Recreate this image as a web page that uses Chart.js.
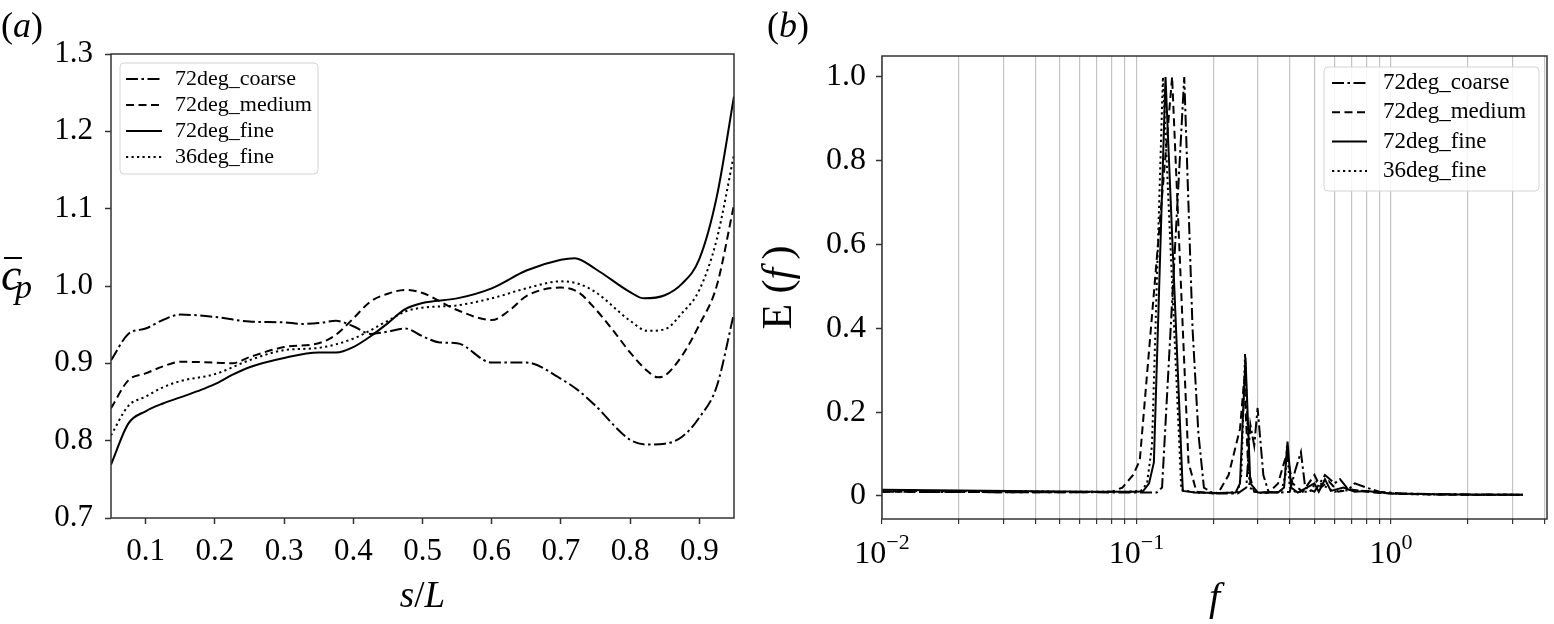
<!DOCTYPE html>
<html>
<head>
<meta charset="utf-8">
<script src="https://cdn.jsdelivr.net/npm/chart.js@4.4.1/dist/chart.umd.min.js"></script>
<style>
    html, body { margin: 0; padding: 0; background: #fff; }
    #wrap { position: relative; width: 1554px; height: 624px; overflow: hidden; }
    #chartA { position: absolute; left: 0; top: 0; }
    #chartB { position: absolute; left: 760px; top: 0; }
</style>
</head>
<body>
<div id="wrap">
    <canvas id="chartA" width="760" height="624"></canvas>
    <canvas id="chartB" width="794" height="624"></canvas>
</div>
<script>
// ---- panel (a): mean pressure coefficient along s/L ----
const S_COARSE = [0.05, 0.075, 0.1, 0.125, 0.15, 0.2, 0.25, 0.3, 0.325, 0.35, 0.375, 0.4, 0.425, 0.45, 0.475, 0.5, 0.525, 0.55, 0.6, 0.65, 0.7, 0.725, 0.75, 0.8, 0.825, 0.85, 0.875, 0.9, 0.925, 0.95];
const CP_COARSE = [0.904, 0.938, 0.945, 0.956, 0.963, 0.960, 0.954, 0.953, 0.951, 0.952, 0.955, 0.948, 0.938, 0.941, 0.945, 0.935, 0.927, 0.926, 0.901, 0.901, 0.880, 0.865, 0.845, 0.801, 0.795, 0.796, 0.805, 0.830, 0.870, 0.965];

const S_MEDIUM = [0.05, 0.075, 0.1, 0.125, 0.15, 0.2, 0.225, 0.25, 0.3, 0.35, 0.375, 0.4, 0.425, 0.45, 0.475, 0.5, 0.55, 0.6, 0.625, 0.65, 0.7, 0.725, 0.75, 0.775, 0.8, 0.825, 0.84, 0.85, 0.875, 0.9, 0.925, 0.95];
const CP_MEDIUM = [0.842, 0.878, 0.887, 0.896, 0.902, 0.901, 0.900, 0.908, 0.921, 0.926, 0.937, 0.958, 0.980, 0.990, 0.995, 0.991, 0.969, 0.956, 0.968, 0.987, 0.998, 0.992, 0.970, 0.943, 0.914, 0.890, 0.882, 0.884, 0.910, 0.950, 1.000, 1.105];

const S_FINE = [0.05, 0.075, 0.1, 0.125, 0.15, 0.175, 0.2, 0.225, 0.25, 0.3, 0.35, 0.375, 0.4, 0.425, 0.45, 0.475, 0.5, 0.55, 0.6, 0.65, 0.7, 0.72, 0.75, 0.8, 0.82, 0.85, 0.875, 0.9, 0.925, 0.95];
const CP_FINE = [0.769, 0.822, 0.838, 0.848, 0.856, 0.864, 0.873, 0.885, 0.895, 0.907, 0.914, 0.914, 0.921, 0.935, 0.952, 0.970, 0.978, 0.984, 0.997, 1.020, 1.034, 1.036, 1.022, 0.992, 0.984, 0.988, 1.003, 1.035, 1.115, 1.245];

const S_FINE36 = [0.05, 0.075, 0.1, 0.125, 0.15, 0.2, 0.25, 0.3, 0.35, 0.4, 0.45, 0.475, 0.5, 0.55, 0.6, 0.65, 0.7, 0.725, 0.75, 0.8, 0.825, 0.85, 0.875, 0.9, 0.925, 0.95];
const CP_FINE36 = [0.807, 0.845, 0.857, 0.869, 0.877, 0.886, 0.904, 0.917, 0.920, 0.932, 0.955, 0.967, 0.972, 0.975, 0.984, 0.997, 1.006, 1.003, 0.992, 0.955, 0.942, 0.944, 0.965, 0.995, 1.060, 1.170];

const TICKS_S = [0.1, 0.2, 0.3, 0.4, 0.5, 0.6, 0.7, 0.8, 0.9];
const TICKS_CP = [0.7, 0.8, 0.9, 1.0, 1.1, 1.2, 1.3];

// ---- panel (b): normalised spectra E(f) ----
const F_COARSE = [0.01, 0.03, 0.06, 0.1, 0.12, 0.126, 0.154, 0.166, 0.175, 0.184, 0.2, 0.25, 0.27, 0.28, 0.29, 0.299, 0.315, 0.33, 0.36, 0.40, 0.42, 0.4425, 0.46, 0.5, 0.55, 0.6, 0.63, 0.68, 0.72, 0.8, 0.9, 1.1, 1.6, 3.3];
const E_COARSE = [0.010, 0.009, 0.009, 0.008, 0.008, 0.02, 1.0, 0.40, 0.15, 0.02, 0.006, 0.006, 0.02, 0.17, 0.12, 0.21, 0.05, 0.01, 0.008, 0.01, 0.06, 0.105, 0.02, 0.01, 0.05, 0.03, 0.04, 0.015, 0.03, 0.02, 0.01, 0.006, 0.004, 0.003];

const F_MEDIUM = [0.01, 0.03, 0.06, 0.08, 0.088, 0.097, 0.103, 0.138, 0.16, 0.172, 0.2, 0.21, 0.23, 0.255, 0.265, 0.275, 0.29, 0.33, 0.36, 0.38, 0.39, 0.41, 0.45, 0.5, 0.53, 0.57, 0.62, 0.7, 0.85, 1.1, 1.6, 3.3];
const E_MEDIUM = [0.010, 0.009, 0.009, 0.010, 0.02, 0.05, 0.085, 1.0, 0.08, 0.01, 0.006, 0.008, 0.05, 0.16, 0.28, 0.06, 0.01, 0.008, 0.03, 0.08, 0.10, 0.03, 0.01, 0.05, 0.02, 0.035, 0.01, 0.015, 0.008, 0.005, 0.003, 0.003];

const F_FINE = [0.01, 0.02, 0.04, 0.07, 0.1, 0.106, 0.112, 0.117, 0.130, 0.152, 0.17, 0.21, 0.245, 0.255, 0.268, 0.28, 0.30, 0.36, 0.38, 0.392, 0.405, 0.43, 0.5, 0.52, 0.55, 0.58, 0.65, 0.72, 0.8, 1.0, 1.5, 2.2, 3.3];
const E_FINE = [0.015, 0.013, 0.011, 0.010, 0.010, 0.011, 0.03, 0.08, 1.0, 0.012, 0.008, 0.007, 0.008, 0.03, 0.33, 0.03, 0.008, 0.008, 0.02, 0.13, 0.02, 0.008, 0.03, 0.01, 0.04, 0.012, 0.02, 0.01, 0.012, 0.006, 0.004, 0.003, 0.003];

const F_FINE36 = [0.01, 0.03, 0.06, 0.09, 0.104, 0.11, 0.115, 0.127, 0.15, 0.17, 0.22, 0.25, 0.258, 0.267, 0.278, 0.30, 0.37, 0.385, 0.39, 0.40, 0.42, 0.48, 0.51, 0.56, 0.6, 0.7, 0.9, 1.2, 2, 3.3];
const E_FINE36 = [0.012, 0.011, 0.010, 0.010, 0.012, 0.03, 0.12, 1.0, 0.015, 0.008, 0.007, 0.01, 0.05, 0.34, 0.02, 0.007, 0.01, 0.05, 0.12, 0.02, 0.01, 0.01, 0.035, 0.02, 0.01, 0.015, 0.008, 0.004, 0.003, 0.003];

const TICKS_F = [0.01, 0.02, 0.03, 0.04, 0.05, 0.06, 0.07, 0.08, 0.09, 0.1, 0.2, 0.3, 0.4, 0.5, 0.6, 0.7, 0.8, 0.9, 1, 2, 3, 4];
const TICKS_F_LABELS = [[0.01, '\u22122'], [0.1, '\u22121'], [1, '0']];
const TICKS_E = [0, 0.2, 0.4, 0.6, 0.8, 1.0];

const LABELS = ['72deg_coarse', '72deg_medium', '72deg_fine', '36deg_fine'];

const SERIF = "'Liberation Serif', 'DejaVu Serif', serif";
const INK = '#000';
const FRAME = '#333';

// dash styles in the order of LABELS
const DASHES = [[12, 3.5, 2.5, 3.5], [8, 4.5], [], [2.2, 3.3]];

const toPoints = (xs, ys) => xs.map((x, i) => ({ x: x, y: ys[i] }));

const makeSets = (pairs, width, smooth) => pairs.map((p, i) => ({
    label: LABELS[i],
    data: toPoints(p[0], p[1]),
    borderColor: INK,
    borderWidth: width,
    borderDash: DASHES[i],
    pointRadius: 0,
    fill: false,
    tension: 0,
    cubicInterpolationMode: smooth ? 'monotone' : 'default'
}));

// draws a row of differently styled text pieces
const drawRuns = (ctx, runs, x, y, align) => {
    let w = 0;
    runs.forEach(r => { ctx.font = r[1]; w += ctx.measureText(r[0]).width; });
    let cx = align === 'center' ? x - w / 2 : (align === 'right' ? x - w : x);
    runs.forEach(r => {
        ctx.font = r[1];
        ctx.fillText(r[0], cx, y + (r[2] || 0));
        cx += ctx.measureText(r[0]).width;
    });
};

const drawLegend = (chart, L) => {
    const ctx = chart.ctx;
    ctx.save();
    ctx.beginPath();
    ctx.roundRect(L.x, L.y, L.w, L.h, 4);
    ctx.fillStyle = 'rgba(255,255,255,0.85)';
    ctx.fill();
    ctx.strokeStyle = '#d4d4d4';
    ctx.lineWidth = 1;
    ctx.stroke();
    chart.data.datasets.forEach((ds, i) => {
        const yy = L.y + L.first + i * L.row;
        ctx.setLineDash(ds.borderDash);
        ctx.strokeStyle = ds.borderColor;
        ctx.lineWidth = ds.borderWidth;
        ctx.beginPath();
        ctx.moveTo(L.x + L.line0, yy);
        ctx.lineTo(L.x + L.line1, yy);
        ctx.stroke();
        ctx.setLineDash([]);
        ctx.fillStyle = INK;
        ctx.font = L.font;
        ctx.textBaseline = 'middle';
        ctx.fillText(ds.label, L.x + L.text, yy);
    });
    ctx.restore();
};

const drawFrame = (chart) => {
    const { ctx, chartArea: a } = chart;
    ctx.save();
    ctx.strokeStyle = FRAME;
    ctx.lineWidth = 1.5;
    ctx.strokeRect(a.left, a.top, a.right - a.left, a.bottom - a.top);
    ctx.restore();
};

const fixedTicks = (list) => (scale) => { scale.ticks = list.map(v => ({ value: v })); };

// ---- chart (a) ----
const decorA = {
    id: 'decorA',
    afterDraw(chart) {
        const ctx = chart.ctx;
        const a = chart.chartArea;
        drawFrame(chart);
        drawLegend(chart, { x: 120, y: 63, w: 198, h: 111, first: 16, row: 26, line0: 6, line1: 42, text: 55, font: '22px ' + SERIF });
        ctx.save();
        ctx.fillStyle = INK;
        ctx.textBaseline = 'alphabetic';
        drawRuns(ctx, [['(', '36px ' + SERIF], ['a', 'italic 36px ' + SERIF], [')', '36px ' + SERIF]], 1, 37, 'left');
        drawRuns(ctx, [['s', 'italic 37px ' + SERIF], ['/', '37px ' + SERIF], ['L', 'italic 37px ' + SERIF]], (a.left + a.right) / 2, 607, 'center');
        // c-bar with subscript p
        drawRuns(ctx, [['c', 'italic 46px ' + SERIF]], 1, 290, 'left');
        ctx.fillRect(4, 257, 18, 2);
        drawRuns(ctx, [['p', 'italic 34px ' + SERIF]], 15, 298, 'left');
        ctx.restore();
    }
};

new Chart(document.getElementById('chartA'), {
    type: 'line',
    data: {
        datasets: makeSets([[S_COARSE, CP_COARSE], [S_MEDIUM, CP_MEDIUM], [S_FINE, CP_FINE], [S_FINE36, CP_FINE36]], 2, true)
    },
    options: {
        responsive: false,
        animation: false,
        layout: { padding: { left: 0, right: 26, top: 54, bottom: 0 } },
        plugins: { legend: { display: false }, tooltip: { enabled: false } },
        scales: {
            x: {
                type: 'linear',
                min: 0.05,
                max: 0.95,
                afterBuildTicks: fixedTicks(TICKS_S),
                afterFit: (s) => { s.height = 106; },
                border: { display: false },
                grid: { drawOnChartArea: false, drawTicks: true, tickLength: 6, tickColor: FRAME, tickWidth: 1.5 },
                ticks: { autoSkip: false, maxRotation: 0, padding: 9, color: INK, font: { family: SERIF, size: 31 }, callback: (v) => v.toFixed(1) }
            },
            y: {
                min: 0.7,
                max: 1.3,
                afterBuildTicks: fixedTicks(TICKS_CP),
                afterFit: (s) => { s.width = 111; },
                border: { display: false },
                grid: { drawOnChartArea: false, drawTicks: true, tickLength: 6, tickColor: FRAME, tickWidth: 1.5 },
                ticks: { padding: 12, color: INK, font: { family: SERIF, size: 31 }, callback: (v) => v.toFixed(1) }
            }
        }
    },
    plugins: [decorA]
});

// ---- chart (b) ----
const decorB = {
    id: 'decorB',
    afterDraw(chart) {
        const ctx = chart.ctx;
        const a = chart.chartArea;
        const xs = chart.scales.x;
        drawFrame(chart);
        drawLegend(chart, { x: 564, y: 67, w: 215, h: 124, first: 16, row: 29.3, line0: 8, line1: 43, text: 59, font: '23px ' + SERIF });
        ctx.save();
        ctx.fillStyle = INK;
        ctx.textBaseline = 'alphabetic';
        drawRuns(ctx, [['(', '36px ' + SERIF], ['b', 'italic 36px ' + SERIF], [')', '36px ' + SERIF]], 7, 37, 'left');
        TICKS_F_LABELS.forEach(t => {
            drawRuns(ctx, [['10', '32px ' + SERIF], [t[1], '22px ' + SERIF, -14]], xs.getPixelForValue(t[0]), 563, 'center');
        });
        drawRuns(ctx, [['f', 'italic 40px ' + SERIF]], (a.left + a.right) / 2, 610, 'center');
        ctx.translate(31, (a.top + a.bottom) / 2);
        ctx.rotate(-Math.PI / 2);
        drawRuns(ctx, [['E (', '42px ' + SERIF], ['f', 'italic 42px ' + SERIF], ['\u2009)', '42px ' + SERIF]], 0, 0, 'center');
        ctx.restore();
    }
};

new Chart(document.getElementById('chartB'), {
    type: 'line',
    data: {
        datasets: makeSets([[F_COARSE, E_COARSE], [F_MEDIUM, E_MEDIUM], [F_FINE, E_FINE], [F_FINE36, E_FINE36]], 2, false)
    },
    options: {
        responsive: false,
        animation: false,
        layout: { padding: { left: 0, right: 7, top: 56, bottom: 0 } },
        plugins: { legend: { display: false }, tooltip: { enabled: false } },
        scales: {
            x: {
                type: 'logarithmic',
                min: 0.01,
                max: 4.1,
                afterBuildTicks: fixedTicks(TICKS_F),
                afterFit: (s) => { s.height = 105; },
                border: { display: false },
                grid: { drawOnChartArea: true, color: '#c4c4c4', lineWidth: 1.2, drawTicks: true, tickLength: 5, tickColor: FRAME, tickWidth: 1.2 },
                ticks: { autoSkip: false, maxRotation: 0, callback: () => '' }
            },
            y: {
                min: -0.055,
                max: 1.05,
                afterBuildTicks: fixedTicks(TICKS_E),
                afterFit: (s) => { s.width = 122; },
                border: { display: false },
                grid: { drawOnChartArea: false, drawTicks: true, tickLength: 6, tickColor: FRAME, tickWidth: 1.5 },
                ticks: { padding: 10, color: INK, font: { family: SERIF, size: 32 }, callback: (v) => (v === 0 ? '0' : v.toFixed(1)) }
            }
        }
    },
    plugins: [decorB]
});
</script>
</body>
</html>
